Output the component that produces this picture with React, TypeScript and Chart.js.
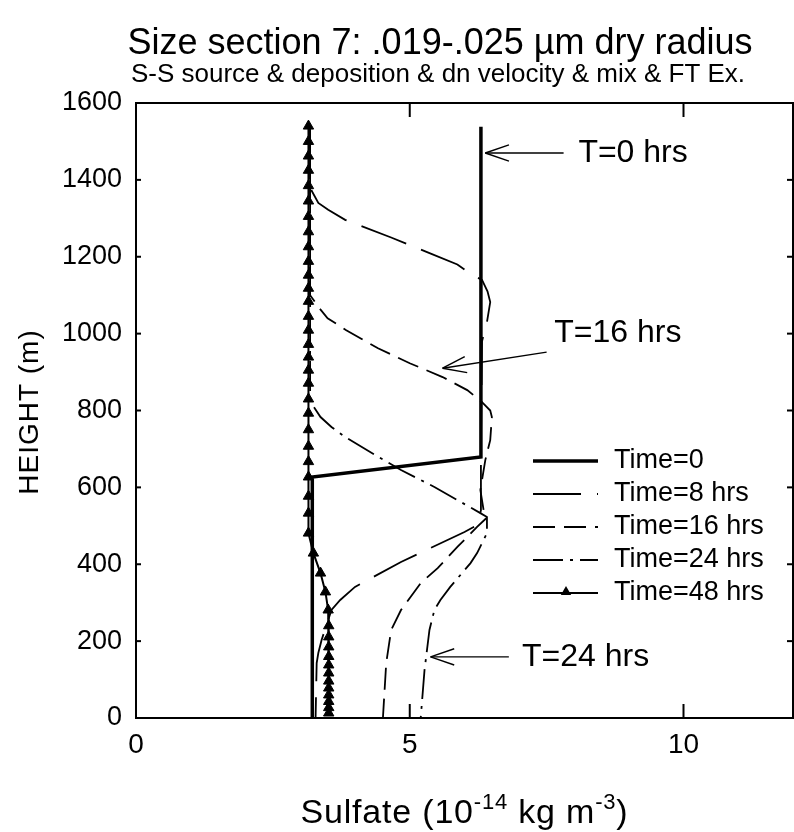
import React, { useEffect, useRef } from "react";
import { Chart, registerables } from "chart.js";

Chart.register(...registerables);

// ---- data (x = sulfate, 10^-14 kg m^-3 ; y = height, m) ----
const T0_H = [0, 627, 679, 1538];
const T0_X = [3.22, 3.22, 6.3, 6.3];

const T8_H = [1540, 1400, 1374, 1340, 1322, 1296, 1250, 1210, 1180, 1152, 1140, 1110, 1082, 1030, 980, 700, 600, 540, 502, 484, 430, 406, 341, 307, 281, 203, 169, 143, 0];
const T8_X = [3.18, 3.18, 3.2, 3.33, 3.51, 3.82, 4.66, 5.35, 5.87, 6.14, 6.32, 6.42, 6.47, 6.41, 6.32, 6.3, 6.3, 6.3, 6.23, 6.0, 5.2, 4.84, 4.0, 3.73, 3.57, 3.39, 3.33, 3.3, 3.28];

const T16_H = [1540, 1100, 1066, 1040, 1009, 962, 923, 887, 853, 822, 800, 783, 723, 671, 593, 540, 520, 497, 445, 390, 351, 281, 229, 143, 0];
const T16_X = [3.18, 3.18, 3.35, 3.5, 3.84, 4.42, 5.0, 5.6, 6.05, 6.32, 6.47, 6.5, 6.47, 6.38, 6.29, 6.35, 6.4, 6.23, 5.87, 5.51, 5.2, 4.84, 4.66, 4.57, 4.51];

const T24_H = [1540, 840, 815, 783, 757, 731, 684, 645, 601, 567, 533, 523, 481, 429, 403, 341, 307, 281, 229, 125, 0];
const T24_X = [3.18, 3.18, 3.22, 3.37, 3.57, 3.82, 4.37, 4.84, 5.45, 5.87, 6.29, 6.41, 6.41, 6.23, 6.11, 5.74, 5.56, 5.45, 5.36, 5.27, 5.2];

const T48_H = [1540, 1500, 1462, 1425, 1385, 1345, 1305, 1265, 1226, 1188, 1152, 1118, 1084, 1045, 1009, 972, 939, 905, 871, 830, 793, 750, 707, 667, 627, 577, 533, 481, 429, 377, 328, 281, 240, 211, 185, 160, 138, 117, 96, 78, 60, 43, 27, 13];
const T48_X = [3.15, 3.15, 3.15, 3.15, 3.15, 3.15, 3.15, 3.15, 3.15, 3.15, 3.15, 3.15, 3.15, 3.15, 3.15, 3.15, 3.15, 3.15, 3.15, 3.15, 3.15, 3.15, 3.15, 3.15, 3.15, 3.15, 3.15, 3.15, 3.24, 3.37, 3.46, 3.51, 3.52, 3.52, 3.52, 3.52, 3.52, 3.52, 3.52, 3.52, 3.52, 3.52, 3.52, 3.52];

const SERIES_LABELS = ["Time=0", "Time=8 hrs", "Time=16 hrs", "Time=24 hrs", "Time=48 hrs"];

const X_MIN = 0;
const X_MAX = 12;
const X_STEP = 5;
const Y_MIN = 0;
const Y_MAX = 1600;
const Y_STEP = 200;
const X_TICK_MARKS = [5, 10];

const TITLE = "Size section 7: .019-.025 \u00b5m dry radius";
const SUBTITLE = "S-S source & deposition & dn velocity & mix & FT Ex.";
const Y_TITLE = "HEIGHT (m)";

// annotations (data coordinates)
const ANNOT_LABELS = ["T=0 hrs", "T=16 hrs", "T=24 hrs"];
const ANNOT_TEXT_X = [8.08, 7.64, 7.05];
const ANNOT_TEXT_Y = [1470, 1002, 159];
const ARROW_TAIL_X = [7.81, 7.5, 6.81];
const ARROW_TAIL_Y = [1470, 952, 159];
const ARROW_TIP_X = [6.38, 5.6, 5.38];
const ARROW_TIP_Y = [1470, 910, 159];

const FONT = "'Liberation Sans', Arial, Helvetica, sans-serif";

const pts = (hs: number[], xs: number[]) => hs.map((h, i) => ({ x: xs[i], y: h }));

function drawTriangle(ctx: CanvasRenderingContext2D, x: number, y: number, r: number) {
  let rad = 0;
  const T = (2 * Math.PI) / 3;
  ctx.beginPath();
  ctx.moveTo(x + Math.sin(rad) * r, y - Math.cos(rad) * r);
  rad += T;
  ctx.lineTo(x + Math.sin(rad) * r, y - Math.cos(rad) * r);
  rad += T;
  ctx.lineTo(x + Math.sin(rad) * r, y - Math.cos(rad) * r);
  ctx.closePath();
  ctx.fill();
}

const decorPlugin = {
  id: "decor",
  afterDraw(chart: any) {
    const { ctx, chartArea: a, scales } = chart;
    const xs = scales.x;
    const ys = scales.y;
    ctx.save();
    ctx.strokeStyle = "#000";
    ctx.fillStyle = "#000";
    ctx.setLineDash([]);

    // frame
    ctx.lineWidth = 2;
    ctx.strokeRect(a.left, a.top, a.right - a.left, a.bottom - a.top);

    const line = (x1: number, y1: number, x2: number, y2: number) => {
      ctx.beginPath();
      ctx.moveTo(x1, y1);
      ctx.lineTo(x2, y2);
      ctx.stroke();
    };

    // inward ticks
    for (let v = Y_MIN + Y_STEP; v < Y_MAX; v += Y_STEP) {
      const py = ys.getPixelForValue(v);
      line(a.left, py, a.left + 5, py);
      line(a.right, py, a.right - 6, py);
    }
    X_TICK_MARKS.forEach((v) => {
      const px = xs.getPixelForValue(v);
      line(px, a.bottom, px, a.bottom - 14);
      line(px, a.top, px, a.top + 14);
    });

    // titles
    ctx.textAlign = "center";
    ctx.textBaseline = "alphabetic";
    ctx.font = `36px ${FONT}`;
    ctx.fillText(TITLE, 440, 54);
    ctx.font = `26px ${FONT}`;
    ctx.fillText(SUBTITLE, 438, 82);

    // y title
    ctx.save();
    ctx.translate(30, 412);
    ctx.rotate(-Math.PI / 2);
    ctx.font = `28px ${FONT}`;
    (ctx as any).letterSpacing = "1px";
    ctx.textBaseline = "middle";
    ctx.fillText(Y_TITLE, 0, 0);
    ctx.restore();

    // x title with superscripts
    const parts = [
      { t: "Sulfate (10", sup: false },
      { t: "-14", sup: true },
      { t: " kg m", sup: false },
      { t: "-3", sup: true },
      { t: ")", sup: false },
    ];
    const mainF = `34px ${FONT}`;
    const supF = `22px ${FONT}`;
    ctx.save();
    (ctx as any).letterSpacing = "0.8px";
    let total = 0;
    parts.forEach((p) => {
      ctx.font = p.sup ? supF : mainF;
      total += ctx.measureText(p.t).width;
    });
    let cx = (a.left + a.right) / 2 - total / 2;
    ctx.textAlign = "left";
    parts.forEach((p) => {
      ctx.font = p.sup ? supF : mainF;
      ctx.fillText(p.t, cx, p.sup ? 809 : 823);
      cx += ctx.measureText(p.t).width;
    });
    ctx.restore();

    // legend
    const ds = chart.data.datasets;
    ctx.font = `27px ${FONT}`;
    ctx.textBaseline = "middle";
    ctx.textAlign = "left";
    ds.forEach((d: any, i: number) => {
      const yy = 461 + i * 33;
      ctx.save();
      ctx.lineWidth = d.borderWidth;
      ctx.setLineDash(d.borderDash || []);
      line(533, yy, 598, yy);
      ctx.restore();
      if (d.pointRadius > 0) drawTriangle(ctx, 566, yy - 1, d.pointRadius);
      ctx.fillText(SERIES_LABELS[i], 614, yy);
    });

    // annotations with arrows
    ctx.lineWidth = 1.4;
    ctx.font = `32px ${FONT}`;
    ANNOT_LABELS.forEach((lab, i) => {
      const tx = xs.getPixelForValue(ARROW_TAIL_X[i]);
      const ty = ys.getPixelForValue(ARROW_TAIL_Y[i]);
      const px = xs.getPixelForValue(ARROW_TIP_X[i]);
      const py = ys.getPixelForValue(ARROW_TIP_Y[i]);
      line(tx, ty, px, py);
      const ang = Math.atan2(ty - py, tx - px);
      const L = 25;
      const spread = 0.33;
      line(px, py, px + L * Math.cos(ang + spread), py + L * Math.sin(ang + spread));
      line(px, py, px + L * Math.cos(ang - spread), py + L * Math.sin(ang - spread));
      ctx.fillText(lab, xs.getPixelForValue(ANNOT_TEXT_X[i]), ys.getPixelForValue(ANNOT_TEXT_Y[i]));
    });

    ctx.restore();
  },
};

export default function App() {
  const ref = useRef<HTMLCanvasElement | null>(null);
  useEffect(() => {
    if (!ref.current) return;
    const chart = new Chart(ref.current, {
      type: "line",
      data: {
        datasets: [
          { label: SERIES_LABELS[0], data: pts(T0_H, T0_X), borderColor: "#000", borderWidth: 3.5, pointRadius: 0, borderDash: [] },
          { label: SERIES_LABELS[1], data: pts(T8_H, T8_X), borderColor: "#000", borderWidth: 1.8, pointRadius: 0, borderDash: [48, 16] },
          { label: SERIES_LABELS[2], data: pts(T16_H, T16_X), borderColor: "#000", borderWidth: 1.8, pointRadius: 0, borderDash: [22, 9] },
          { label: SERIES_LABELS[3], data: pts(T24_H, T24_X), borderColor: "#000", borderWidth: 1.8, pointRadius: 0, borderDash: [30, 7, 3, 7] },
          {
            label: SERIES_LABELS[4], data: pts(T48_H, T48_X), borderColor: "#000", borderWidth: 2,
            pointRadius: 6, pointStyle: "triangle", pointBackgroundColor: "#000", pointBorderColor: "#000", pointBorderWidth: 1, borderDash: [],
          },
        ] as any,
      },
      options: {
        animation: false,
        responsive: false,
        maintainAspectRatio: false,
        devicePixelRatio: 1,
        layout: { padding: { top: 103, right: 2, left: 0, bottom: 0 } },
        plugins: { legend: { display: false }, title: { display: false }, tooltip: { enabled: false } },
        elements: { line: { tension: 0, fill: false } },
        scales: {
          x: {
            type: "linear",
            min: X_MIN,
            max: X_MAX,
            grid: { display: false, drawTicks: false },
            border: { display: false },
            ticks: { stepSize: X_STEP, includeBounds: false, color: "#000", font: { family: FONT, size: 28 }, padding: 10, maxRotation: 0, callback: (v: any) => String(v) },
            afterFit: (s: any) => { s.height = 114; },
          },
          y: {
            type: "linear",
            min: Y_MIN,
            max: Y_MAX,
            grid: { display: false, drawTicks: false },
            border: { display: false },
            ticks: { stepSize: Y_STEP, color: "#000", font: { family: FONT, size: 27 }, padding: 14, callback: (v: any) => String(v) },
            afterFit: (s: any) => { s.width = 136; },
          },
        },
      } as any,
      plugins: [decorPlugin],
    });
    return () => chart.destroy();
  }, []);
  return (
    <div style={{ position: "fixed", left: 0, top: 0, width: 794, height: 832, overflow: "hidden", background: "#fff" }}>
      <canvas ref={ref} width={800} height={832} style={{ display: "block", width: 800, height: 832 }} />
    </div>
  );
}
